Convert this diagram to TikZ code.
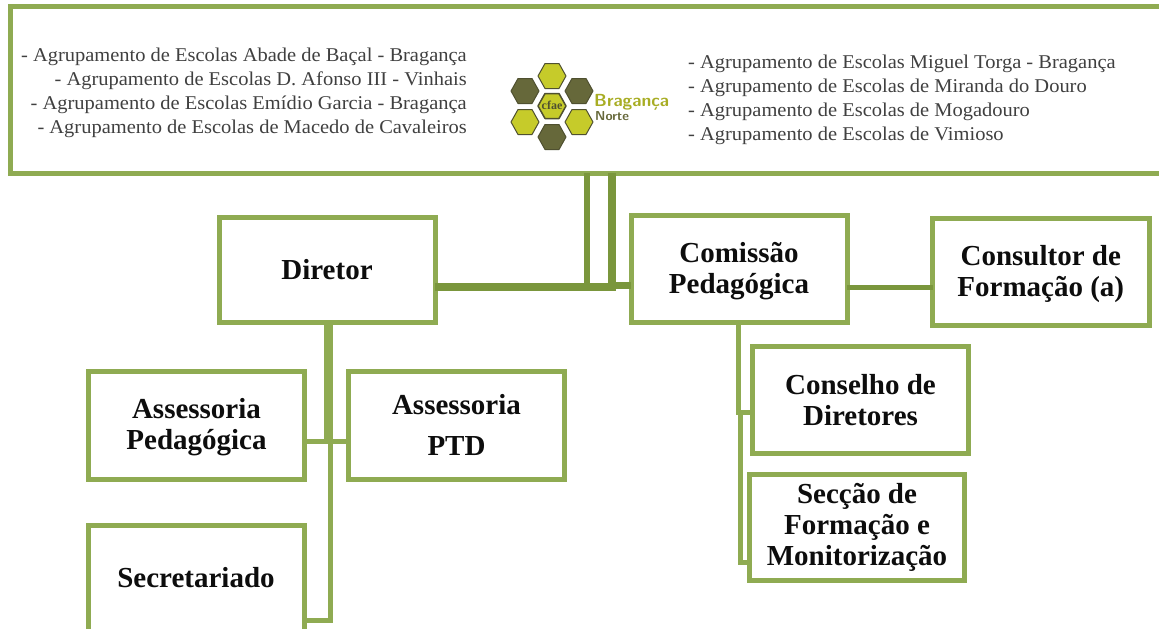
\documentclass[tikz,border=0pt]{standalone}
\usepackage{fontspec}
\setmainfont{Liberation Serif}
\newfontfamily\listfont[FakeStretch=1.05]{Liberation Serif}
\definecolor{boxgreen}{HTML}{8FAB52}
\definecolor{linkgreen}{HTML}{7A963C}
\definecolor{hexlight}{HTML}{C6CB2A}
\definecolor{hexdark}{HTML}{66683A}
\definecolor{hexedge}{HTML}{4F5030}
\tikzset{x=1pt,y=-1pt,
 orgbox/.style={draw=boxgreen,line width=5pt,fill=white,rectangle,inner sep=0pt,outer sep=0pt,align=center,font=\fontsize{29}{31}\selectfont\bfseries,text=black!95},
 link/.style={draw=linkgreen,line width=5pt},
 thinlink/.style={draw=boxgreen,line width=5pt},
 listline/.style={inner sep=0pt,font=\listfont\fontsize{19.5}{24}\selectfont,text=black!75},
 hexcell/.style={draw=hexedge,line width=1pt,line join=round},
}
\newcommand{\boxat}[6]{\node[orgbox,minimum width=#4pt-#2pt,minimum height=#5pt-#3pt,anchor=north west] (#1) at (#2,#3) {#6};}
\newcommand{\hexat}[3]{\filldraw[hexcell,fill=#3] (#1,#2) +(-14,0) -- +(-7,-12.5) -- +(7,-12.5) -- +(14,0) -- +(7,12.5) -- +(-7,12.5) -- cycle;}
\newcommand{\topfix}{\rule{0pt}{24pt}}
\begin{document}
\begin{tikzpicture}
\useasboundingbox (0,0) rectangle (1159,629);
\coordinate (mid1) at (587,285);
\coordinate (mid2) at (612,287);
\coordinate (midend) at (616,287);
\coordinate (midc) at (612,285);
\coordinate (jc) at (890,287);
\coordinate (jl) at (328,441);
\coordinate (jlb) at (330,441);
\coordinate (jbot) at (330,620);
\coordinate (jr) at (738,412);
\coordinate (jrb) at (740,412);
\coordinate (jrs) at (740,562);
\begin{scope}
\clip (0,0) rectangle (1159,629);
\boxat{top}{10.5}{6}{1170}{173}{}
\boxat{sec}{88.5}{525}{304.5}{660}{}
\end{scope}
\boxat{dir}{219}{217}{435}{322}{Diretor}
\boxat{com}{631}{215}{847}{322.5}{\topfix Comissão\\Pedagógica}
\boxat{con}{932.5}{218.5}{1149}{325.5}{\topfix Consultor de\\Formação (a)}
\boxat{ap}{88.5}{371}{304.5}{479}{\topfix Assessoria\\Pedagógica}
\boxat{ptd}{348.5}{371}{564.5}{479}{Assessoria\\[10pt]PTD}
\node[font=\fontsize{29}{31}\selectfont\bfseries,text=black!95,inner sep=0pt] (sect) at (196,578) {Secretariado};
\boxat{cd}{752.5}{346}{968.5}{453.5}{Conselho de\\Diretores}
\boxat{sf}{749.5}{474}{964.5}{580.5}{Secção de\\Formação e\\Monitorização}
% connectors
\draw[link,line width=6pt] (top.south -| mid1) -- (mid1);
\draw[link,line width=8pt] (top.south -| mid2) -- (mid2);
\draw[link,line width=8pt] (dir.east |- mid2) -- (midend);
\draw[link,line width=7pt] (midc) -- (com.west |- midc);
\draw[link] (com.east |- jc) -- (con.west |- jc);
\draw[thinlink,line width=9pt] (dir.south -| jl) -- (jl);
\draw[thinlink] (ap.east |- jl) -- (ptd.west |- jl);
\draw[thinlink] (jlb) -- (jbot) -- (sec.east |- jbot);
\draw[thinlink] (com.south -| jr) -- (jr) -- (cd.west |- jr);
\draw[thinlink] (jrb) -- (jrs) -- (sf.west |- jrs);
% lists
\foreach \y/\t in {57/{- Agrupamento de Escolas Abade de Baçal - Bragança},
 81/{- Agrupamento de Escolas D. Afonso III - Vinhais},
 105/{- Agrupamento de Escolas Emídio Garcia - Bragança},
 129/{- Agrupamento de Escolas de Macedo de Cavaleiros}}
 \node[listline,anchor=east] at (467,\y) {\t};
\foreach \y/\t in {64/{- Agrupamento de Escolas Miguel Torga - Bragança},
 88/{- Agrupamento de Escolas de Miranda do Douro},
 112/{- Agrupamento de Escolas de Mogadouro},
 136/{- Agrupamento de Escolas de Vimioso}}
 \node[listline,anchor=west] at (688,\y) {\t};
% logo
\hexat{552}{76}{hexlight}
\hexat{525}{91}{hexdark}
\hexat{579}{91}{hexdark}
\hexat{525}{122}{hexlight}
\hexat{579}{122}{hexlight}
\hexat{552}{137}{hexdark}
\filldraw[hexcell,fill=hexlight,line width=1.5pt] (552,106) +(-14,0) -- +(-7,-12.5) -- +(7,-12.5) -- +(14,0) -- +(7,12.5) -- +(-7,12.5) -- cycle;
\node[inner sep=0pt,font=\fontsize{12}{12}\selectfont\bfseries,text=hexedge] (cfae) at (552,105) {cfae};
\node[inner sep=0pt,anchor=west,font=\sffamily\fontsize{17.5}{18}\selectfont\bfseries,text=hexlight!85!black] (brag) at (594,102) {Bragança};
\node[inner sep=0pt,anchor=west,font=\sffamily\fontsize{13}{13}\selectfont\bfseries,text=hexdark] (norte) at (595,116) {Norte};
\end{tikzpicture}
\end{document}
